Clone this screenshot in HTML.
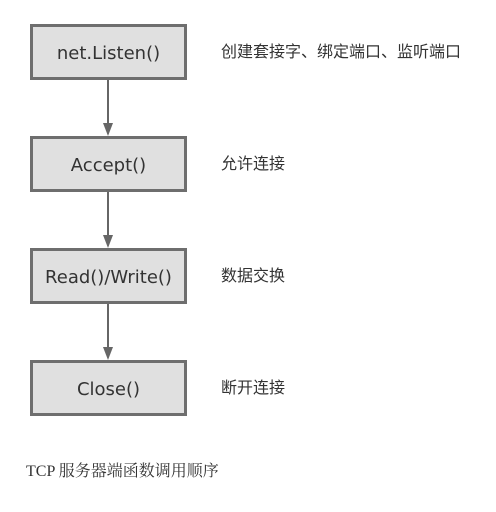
<html><body style="margin:0;width:496px;height:512px;background:#fff;position:relative;font-family:'DejaVu Sans','Liberation Sans',sans-serif">
<style>
.b{position:absolute;left:30px;width:151px;height:50px;border:3px solid #6e6e6e;background:#e0e0e0;color:#333;font-size:18px;display:flex;align-items:center;justify-content:center;padding-top:2px;box-sizing:content-box}
.b{height:48px}
.t{position:absolute;left:221px;font-size:16px;color:#333;font-family:'Liberation Sans','Noto Sans CJK SC',sans-serif;line-height:20px}
.l{position:absolute;left:107px;width:2px;background:#666;height:44px}
.a{position:absolute;left:103px;width:0;height:0;border-left:5px solid transparent;border-right:5px solid transparent;border-top:13px solid #666}
</style>
<div class="b" style="top:24px">net.Listen()</div>
<div class="b" style="top:136px">Accept()</div>
<div class="b" style="top:248px">Read()/Write()</div>
<div class="b" style="top:360px">Close()</div>
<div class="l" style="top:80px"></div><div class="a" style="top:123px"></div>
<div class="l" style="top:192px"></div><div class="a" style="top:235px"></div>
<div class="l" style="top:304px"></div><div class="a" style="top:347px"></div>
<div class="t" style="top:43px">创建套接字、绑定端口、监听端口</div>
<div class="t" style="top:155px">允许连接</div>
<div class="t" style="top:267px">数据交换</div>
<div class="t" style="top:379px">断开连接</div>
<div style="position:absolute;left:26px;top:458px;font-size:16px;color:#333;font-family:'Liberation Serif','Noto Serif CJK SC',serif">TCP 服务器端函数调用顺序</div>
</body></html>
